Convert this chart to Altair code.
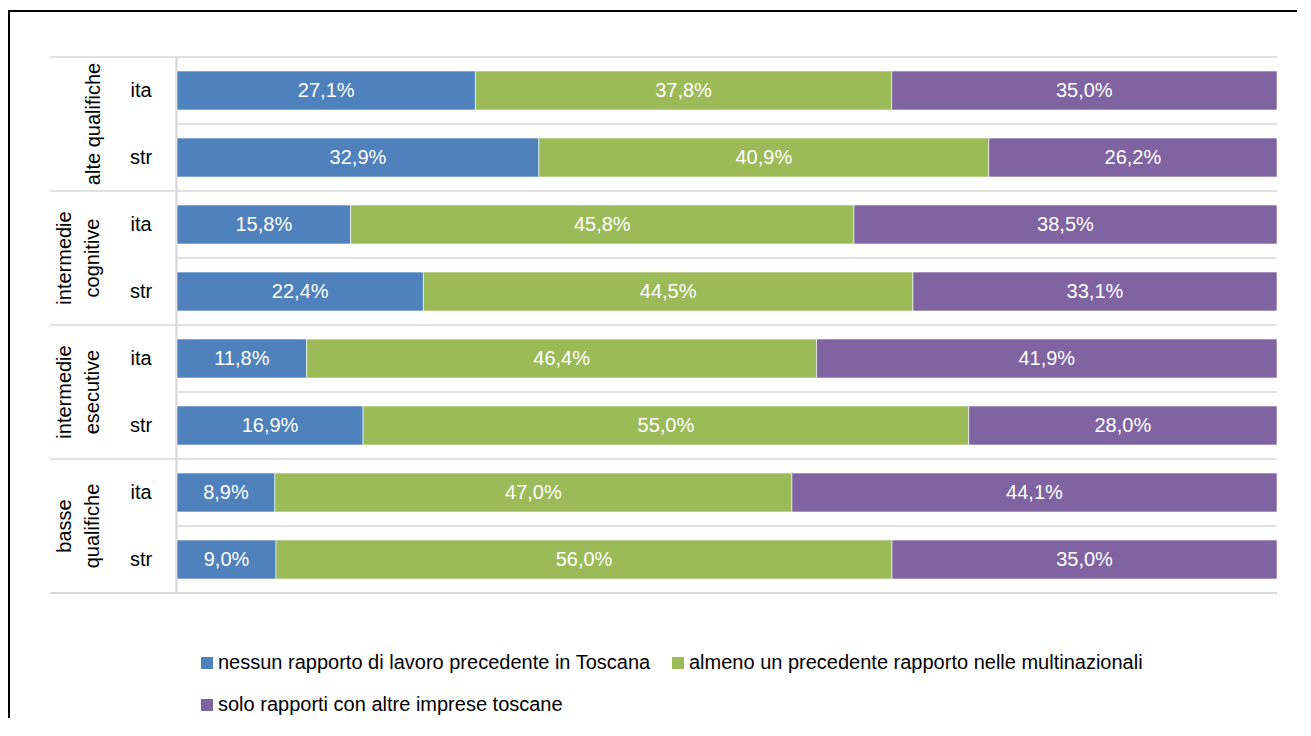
import altair as alt
import pandas as pd

groups = ["alte qualifiche", "intermedie cognitive", "intermedie esecutive", "basse qualifiche"]
group_lines = [["alte qualifiche"], ["intermedie", "cognitive"], ["intermedie", "esecutive"], ["basse", "qualifiche"]]
subs = ["ita", "str"]
series_names = [
    "nessun rapporto di lavoro precedente in Toscana",
    "almeno un precedente rapporto nelle multinazionali",
    "solo rapporti con altre imprese toscane",
]
nessun = [27.1, 32.9, 15.8, 22.4, 11.8, 16.9, 8.9, 9.0]
almeno = [37.8, 40.9, 45.8, 44.5, 46.4, 55.0, 47.0, 56.0]
solo = [35.0, 26.2, 38.5, 33.1, 41.9, 28.0, 44.1, 35.0]
colors = ["#4F81BD", "#9BBB59", "#8064A2"]

FONT = "Liberation Sans, Arial, sans-serif"
FS = 20

rows = [f"r{i}" for i in range(8)]
recs = []
row_recs = []
for gi, g in enumerate(groups):
    for si, s in enumerate(subs):
        i = gi * 2 + si
        row_recs.append({"row": rows[i], "sub": s, "group": g})
        for k, vals in enumerate([nessun, almeno, solo]):
            v = vals[i]
            recs.append({
                "row": rows[i], "series": series_names[k], "order": k, "value": v,
                "label": f"{v:.1f}".replace(".", ",") + "%",
            })
df = pd.DataFrame(recs)
rdf = pd.DataFrame(row_recs)

grp_single = pd.DataFrame([{"row": rows[gi * 2 + 1], "txt": group_lines[gi]} for gi in range(4) if len(group_lines[gi]) == 1])
grp_double = pd.DataFrame([{"row": rows[gi * 2 + 1], "txt": group_lines[gi]} for gi in range(4) if len(group_lines[gi]) == 2])
grid_major = pd.DataFrame({"row": [rows[0], rows[2], rows[4], rows[6]]})
grid_minor = pd.DataFrame({"row": [rows[1], rows[3], rows[5], rows[7]]})

W, H = 1100, 536
yscale = alt.Scale(domain=rows, paddingInner=0, paddingOuter=0)
Y = alt.Y("row:N", sort=rows, scale=yscale, axis=None)
Y0 = alt.Y("row:N", sort=rows, scale=yscale, axis=None, bandPosition=0)

base = alt.Chart(df).transform_stack(
    stack="value", groupby=["row"], sort=[alt.SortField("order", "ascending")],
    as_=["x0", "x1"], offset="normalize",
).transform_calculate(mid="(datum.x0 + datum.x1) / 2")

xs = alt.Scale(domain=[0, 1])

bars = base.mark_bar(height=39, stroke="#ffffff", strokeWidth=0.6).encode(
    y=Y,
    x=alt.X("x0:Q", scale=xs, axis=None),
    x2="x1",
    color=alt.Color(
        "series:N",
        scale=alt.Scale(domain=series_names, range=colors),
        legend=alt.Legend(
            title=None, orient="none", legendX=20, legendY=596, direction="horizontal",
            columns=2, symbolType="square", symbolSize=144, symbolStrokeWidth=0,
            labelFont=FONT, labelFontSize=FS, labelColor="#000000", labelLimit=700,
            columnPadding=17, rowPadding=22, labelOffset=1,
        ),
    ),
    order=alt.Order("order:Q"),
)

labels = base.mark_text(color="white", font=FONT, fontSize=FS, baseline="middle").encode(
    y=Y, x=alt.X("mid:Q", scale=xs), text="label:N"
)

gridc = "#d9d9d9"
rule_major = alt.Chart(grid_major).mark_rule(color=gridc, strokeWidth=1.5).encode(
    y=Y0, x=alt.value(-127), x2=alt.value(W)
)
rule_minor = alt.Chart(grid_minor).mark_rule(color=gridc, strokeWidth=1.5).encode(
    y=Y0, x=alt.value(0), x2=alt.value(W)
)
rule_bottom = alt.Chart(grid_major).mark_rule(color=gridc, strokeWidth=1.5).encode(
    y=alt.value(H), x=alt.value(-127), x2=alt.value(W)
)
rule_axis = alt.Chart(grid_major).mark_rule(color=gridc, strokeWidth=1.5).encode(
    x=alt.value(-0.5), y=alt.value(0), y2=alt.value(H)
)

sub_txt = alt.Chart(rdf).mark_text(font=FONT, fontSize=FS, color="#000000", align="center", baseline="middle").encode(
    y=Y, x=alt.value(-36), text="sub:N"
)
g1 = alt.Chart(grp_single).mark_text(font=FONT, fontSize=FS, color="#000000", align="center", baseline="middle", angle=270).encode(
    y=Y0, x=alt.value(-83), text="txt"
)
g2 = alt.Chart(grp_double).mark_text(font=FONT, fontSize=FS, color="#000000", align="center", baseline="middle", angle=270, lineHeight=28).encode(
    y=Y0, x=alt.value(-112), text="txt"
)

border_top = alt.Chart(grid_major).mark_rule(color="#000000", strokeWidth=2).encode(
    y=alt.value(-46), x=alt.value(-170), x2=alt.value(W + 40)
)
border_left = alt.Chart(grid_major).mark_rule(color="#000000", strokeWidth=2).encode(
    x=alt.value(-168), y=alt.value(-47), y2=alt.value(H + 200)
)

chart = alt.layer(
    rule_major, rule_minor, rule_bottom, rule_axis, bars, labels, sub_txt, g1, g2, border_top, border_left
).properties(
    width=W, height=H,
    autosize=alt.AutoSizeParams(type="none"),
    padding={"left": 169, "top": 49, "right": 20, "bottom": 125},
    background="white",
).configure_view(stroke=None)

chart.save("out.html", embed_options={"renderer": "svg", "actions": False})
